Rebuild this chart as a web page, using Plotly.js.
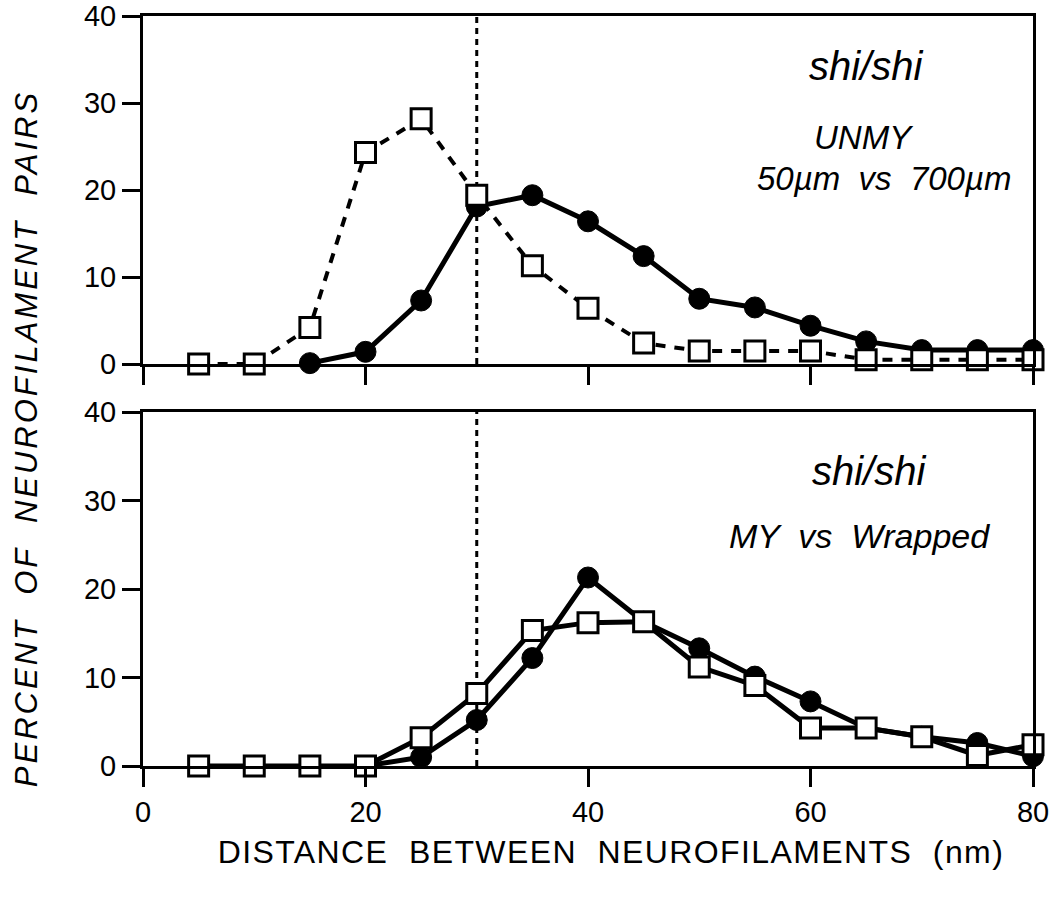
<!DOCTYPE html>
<html>
<head>
<meta charset="utf-8">
<script src="https://cdn.plot.ly/plotly-3.0.1.min.js"></script>
<style>html,body{margin:0;padding:0;background:#fff;}#chart{width:1050px;height:897px;}</style>
</head>
<body>
<div id="chart"></div>
<script>
// Top panel: shi/shi UNMY 50um vs 700um
const topCircleX = [15, 20, 25, 30, 35, 40, 45, 50, 55, 60, 65, 70, 75, 80];
const topCircleY = [0.1, 1.4, 7.3, 18.1, 19.4, 16.4, 12.4, 7.5, 6.5, 4.4, 2.6, 1.6, 1.6, 1.6];
const topSquareX = [5, 10, 15, 20, 25, 30, 35, 40, 45, 50, 55, 60, 65, 70, 75, 80];
const topSquareY = [0, 0, 4.2, 24.3, 28.2, 19.4, 11.3, 6.4, 2.4, 1.5, 1.5, 1.5, 0.5, 0.5, 0.5, 0.5];
// Bottom panel: shi/shi MY vs Wrapped
const botCircleX = [20, 25, 30, 35, 40, 45, 50, 55, 60, 65, 70, 75, 80];
const botCircleY = [0, 1.0, 5.2, 12.2, 21.3, 16.3, 13.3, 10.1, 7.3, 4.3, 3.3, 2.6, 1.1];
const botSquareX = [5, 10, 15, 20, 25, 30, 35, 40, 45, 50, 55, 60, 65, 70, 75, 80];
const botSquareY = [0, 0, 0, 0, 3.2, 8.2, 15.3, 16.2, 16.3, 11.2, 9.1, 4.3, 4.3, 3.3, 1.2, 2.4];
const xTicks = [0, 20, 40, 60, 80];
const yTicks = [0, 10, 20, 30, 40];
const refLineX = 30;
const xTitle = "DISTANCE  BETWEEN  NEUROFILAMENTS  (nm)";
const yTitle = "PERCENT  OF  NEUROFILAMENT  PAIRS";
const topLabel = ["shi/shi", "UNMY", "50µm  vs  700µm"];
const botLabel = ["shi/shi", "MY  vs  Wrapped"];

const tickFont = {family: "Liberation Sans, Arial, sans-serif", size: 29, color: "#000"};
const circleMarker = {symbol: "circle", size: 21, color: "#000", line: {color: "#000", width: 1}};
const squareMarker = {symbol: "square", size: 20, color: "#fff", line: {color: "#000", width: 3}};

const data = [
  {x: topCircleX, y: topCircleY, xaxis: "x", yaxis: "y", mode: "lines+markers",
   line: {color: "#000", width: 5}, marker: circleMarker, showlegend: false, cliponaxis: false},
  {x: topSquareX, y: topSquareY, xaxis: "x", yaxis: "y", mode: "lines+markers",
   line: {color: "#000", width: 4, dash: "10px,9px"}, marker: squareMarker, showlegend: false, cliponaxis: false},
  {x: botCircleX, y: botCircleY, xaxis: "x2", yaxis: "y2", mode: "lines+markers",
   line: {color: "#000", width: 5}, marker: circleMarker, showlegend: false, cliponaxis: false},
  {x: botSquareX, y: botSquareY, xaxis: "x2", yaxis: "y2", mode: "lines+markers",
   line: {color: "#000", width: 5}, marker: squareMarker, showlegend: false, cliponaxis: false}
];

function xAxis(anchor, showLabels) {
  return {
    anchor: anchor, domain: [0, 1], range: [0, 80], tickvals: xTicks,
    showticklabels: showLabels, ticks: "outside", ticklen: 18, tickwidth: 3, tickcolor: "#000",
    showline: true, linewidth: 3, linecolor: "#000", mirror: true, ticklabeloverflow: "allow",
    showgrid: false, zeroline: false, tickfont: tickFont, fixedrange: true
  };
}
function yAxis(anchor, domain) {
  return {
    anchor: anchor, domain: domain, range: [0, 40], tickvals: yTicks,
    ticks: "outside", ticklen: 18, tickwidth: 3, tickcolor: "#000",
    showline: true, linewidth: 3, linecolor: "#000", mirror: true, ticklabeloverflow: "allow",
    showgrid: false, zeroline: false, tickfont: tickFont, fixedrange: true
  };
}

const italic = {family: "Liberation Sans, Arial, sans-serif", color: "#000"};
const layout = {
  width: 1050, height: 897,
  margin: {l: 143, r: 17, t: 16, b: 131},
  paper_bgcolor: "#fff", plot_bgcolor: "#fff",
  xaxis: xAxis("y", false),
  yaxis: yAxis("x", [0.536, 1]),
  xaxis2: xAxis("y2", true),
  yaxis2: yAxis("x2", [0, 0.472]),
  shapes: [
    {type: "line", xref: "x", yref: "y domain", x0: refLineX, x1: refLineX, y0: 0, y1: 1,
     line: {color: "#000", width: 3, dash: "6px,5px"}, layer: "below"},
    {type: "line", xref: "x2", yref: "y2 domain", x0: refLineX, x1: refLineX, y0: 0, y1: 1,
     line: {color: "#000", width: 3, dash: "6px,5px"}, layer: "below"}
  ],
  annotations: [
    {text: "<i>" + topLabel[0] + "</i>", xref: "x", yref: "y", x: 65.0, y: 34.3, showarrow: false,
     font: Object.assign({size: 40}, italic)},
    {text: "<i>" + topLabel[1] + "</i>", xref: "x", yref: "y", x: 64.8, y: 26.0, showarrow: false,
     font: Object.assign({size: 33}, italic)},
    {text: "<i>" + topLabel[2] + "</i>", xref: "x", yref: "y", x: 66.6, y: 21.3, showarrow: false,
     font: Object.assign({size: 33}, italic)},
    {text: "<i>" + botLabel[0] + "</i>", xref: "x2", yref: "y2", x: 65.3, y: 33.3, showarrow: false,
     font: Object.assign({size: 40}, italic)},
    {text: "<i>" + botLabel[1] + "</i>", xref: "x2", yref: "y2", x: 64.4, y: 26.0, showarrow: false,
     font: Object.assign({size: 34}, italic)},
    {text: xTitle, xref: "paper", yref: "paper", x: 0.526, y: -0.114, xanchor: "center", yanchor: "middle",
     showarrow: false, font: {family: "Liberation Sans, Arial, sans-serif", size: 32, color: "#000"}},
    {text: "<i>" + yTitle + "</i>", xref: "paper", yref: "paper", x: -0.131, y: 0.437, xanchor: "center", yanchor: "middle",
     textangle: -90, showarrow: false, font: {family: "Liberation Sans, Arial, sans-serif", size: 31, color: "#000"}}
  ]
};

Plotly.newPlot("chart", data, layout, {displayModeBar: false, staticPlot: true}).then(function () {
  const spacing = {"5": "1.4px", "6": "3px"};
  Object.keys(spacing).forEach(function (k) {
    const t = document.querySelector('g.annotation[data-index="' + k + '"] text');
    if (t) t.style.letterSpacing = spacing[k];
  });
});
</script>
</body>
</html>
